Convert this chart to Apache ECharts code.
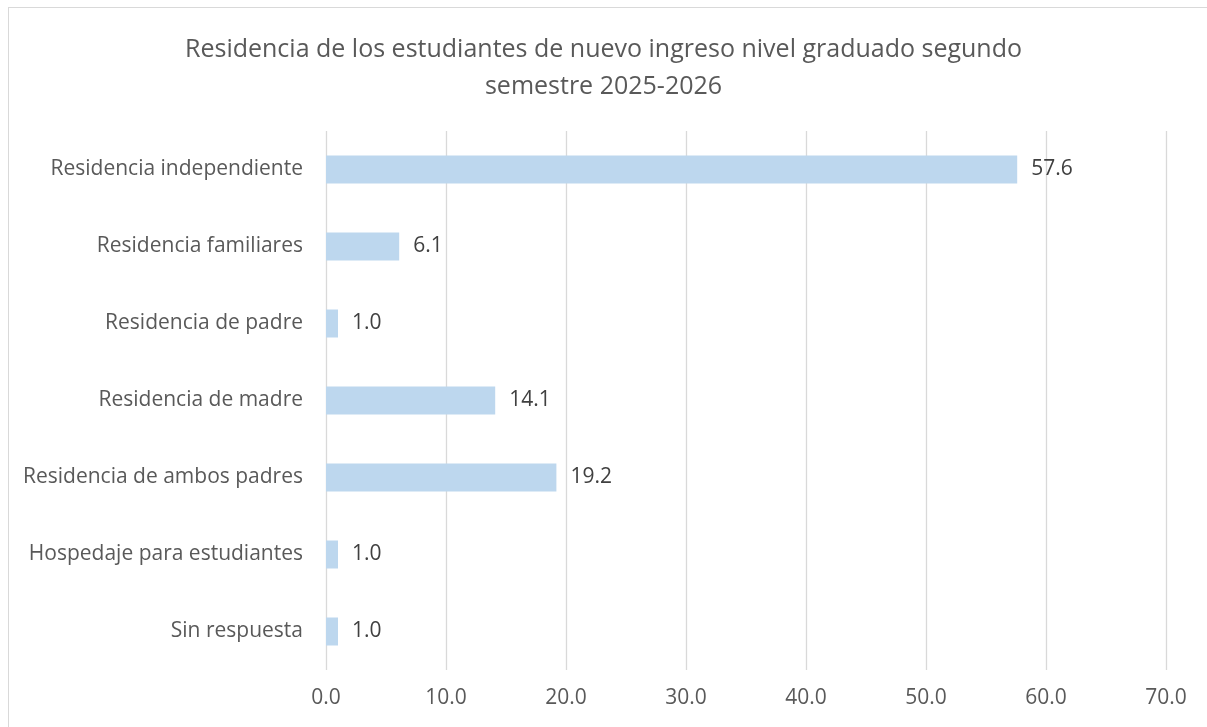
<!DOCTYPE html>
<html>
<head>
<meta charset="utf-8">
<script src="https://cdn.jsdelivr.net/npm/echarts@6/dist/echarts.min.js"></script>
<style>
  html, body { margin: 0; padding: 0; background: #fff; }
  #frame { position: absolute; left: 8px; top: 7px; width: 1210px; height: 740px; border: 1px solid #d9d9d9; box-sizing: border-box; }
  #chart { position: absolute; left: 0; top: 0; width: 1207px; height: 727px; }
</style>
</head>
<body>
<div id="frame"></div>
<div id="chart"></div>
<script>
// categorias (de abajo hacia arriba)
var categories = ['Sin respuesta', 'Hospedaje para estudiantes', 'Residencia de ambos padres',
  'Residencia de madre', 'Residencia de padre', 'Residencia familiares', 'Residencia independiente']
// porcentajes
var values = [1.0, 1.0, 19.2, 14.1, 1.0, 6.1, 57.6]
var titleText = 'Residencia de los estudiantes de nuevo ingreso nivel graduado segundo\nsemestre 2025-2026'

var font = '"Open Sans", sans-serif'
var myChart = echarts.init(document.getElementById('chart'))
var option = {
  animation: false,
  title: {
    text: titleText,
    left: 'center',
    top: 26,
    textStyle: { color: '#595959', fontSize: 25, fontWeight: 'normal', fontFamily: font, lineHeight: 37 }
  },
  grid: { left: 326, right: 41, top: 131, bottom: 57 },
  xAxis: {
    type: 'value',
    min: 0,
    max: 70,
    interval: 10,
    axisLine: { show: false },
    axisTick: { show: false },
    axisLabel: {
      color: '#595959', fontSize: 21, fontFamily: font, margin: 18,
      formatter: function (v) { return v.toFixed(1) }
    },
    splitLine: { lineStyle: { color: '#d9d9d9', width: 1.3 } }
  },
  yAxis: {
    type: 'category',
    data: categories,
    axisLine: { show: false },
    axisTick: { show: false },
    axisLabel: { color: '#595959', fontSize: 21, fontFamily: font, margin: 23 }
  },
  series: [{
    type: 'bar',
    data: values,
    barWidth: 28,
    itemStyle: { color: '#bdd7ee' },
    label: {
      show: true,
      position: 'right',
      distance: 14,
      color: '#404040',
      fontSize: 21,
      fontFamily: font,
      formatter: function (p) { return p.value.toFixed(1) }
    }
  }]
}
myChart.setOption(option)
</script>
</body>
</html>
